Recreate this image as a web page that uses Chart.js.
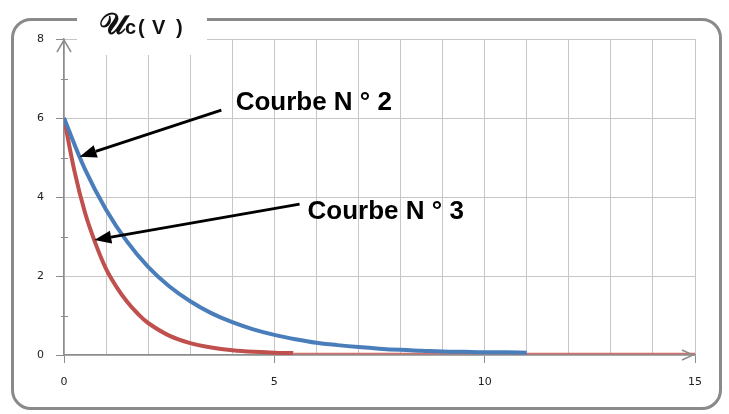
<!DOCTYPE html>
<html>
<head>
<meta charset="utf-8">
<script src="https://cdn.jsdelivr.net/npm/chart.js@4.4.1/dist/chart.umd.min.js"></script>
<style>
  html, body { margin: 0; padding: 0; background: #fff; }
  #wrap { position: relative; width: 729px; height: 414px; }
  #frame {
    position: absolute; left: 11px; top: 18px; width: 705px; height: 386px;
    border: 3px solid #8a8a8a; border-radius: 20px;
  }
  #uc-chart { position: absolute; left: 0; top: 0; }
</style>
</head>
<body>
<div id="wrap">
  <div id="frame"></div>
  <canvas id="uc-chart" width="729" height="414"></canvas>
</div>
<script>
// courbe N°2 (bleue)
var blueX = [0, 0.5, 1, 1.5, 2, 2.5, 3, 3.5, 4, 4.5, 5, 5.5, 6, 6.5, 7, 7.5, 8, 8.5, 9, 9.5, 10, 10.5, 11];
var blueY = [6, 4.7, 3.68, 2.87, 2.23, 1.74, 1.36, 1.06, 0.83, 0.65, 0.51, 0.4, 0.31, 0.25, 0.2, 0.16, 0.13, 0.11, 0.09, 0.08, 0.07, 0.07, 0.06];
// courbe N°3 (rouge)
var redX = [0, 0.25, 0.5, 0.75, 1, 1.25, 1.5, 1.75, 2, 2.5, 3, 3.5, 4, 4.5, 5, 5.45];
var redY = [6, 4.65, 3.6, 2.82, 2.18, 1.72, 1.35, 1.05, 0.81, 0.49, 0.3, 0.19, 0.12, 0.08, 0.06, 0.05];
// fine ligne rouge jusqu'a 15
var tailX = [5.45, 15];
var tailY = [0.04, 0.04];

var xTicks = [0, 5, 10, 15];
var yTicks = [0, 2, 4, 6, 8];

// fleches : pointe, depart, texte (en unites des axes)
var noteLabels = ['Courbe N ° 2', 'Courbe N ° 3'];
var noteTips = [[0.37, 5.02], [0.72, 2.91]];
var noteTails = [[3.74, 6.2], [5.6, 3.82]];
var noteText = [[4.08, 6.2], [5.79, 3.44]];

function toPoints(xs, ys) {
    return xs.map(function (x, i) { return { x: x, y: ys[i] }; });
}

var grey = '#8c8c8c';

var decor = {
    id: 'decor',
    afterDraw: function (chart) {
        var ctx = chart.ctx;
        var xs = chart.scales.x, ys = chart.scales.y;
        var a = chart.chartArea;
        ctx.save();

        // petits traits secondaires sur l'axe y
        ctx.strokeStyle = grey;
        ctx.lineWidth = 1;
        [1, 3, 5, 7].forEach(function (v) {
            var py = Math.round(ys.getPixelForValue(v)) + 0.5;
            ctx.beginPath();
            ctx.moveTo(a.left - 3, py);
            ctx.lineTo(a.left + 4, py);
            ctx.stroke();
        });

        // fleches des axes
        ctx.lineWidth = 1.5;
        ctx.beginPath();
        ctx.moveTo(a.left - 7, a.top + 13);
        ctx.lineTo(a.left, a.top + 1);
        ctx.lineTo(a.left + 7, a.top + 13);
        ctx.moveTo(a.right - 13, a.bottom - 5);
        ctx.lineTo(a.right - 2, a.bottom);
        ctx.lineTo(a.right - 13, a.bottom + 5);
        ctx.stroke();

        // cartouche du titre
        ctx.fillStyle = '#fff';
        ctx.fillRect(77, 0, 130, 55);
        ctx.fillStyle = '#111';
        ctx.textBaseline = 'alphabetic';
        ctx.font = 'bold 30px "DejaVu Serif", serif';
        ctx.fillText('\u{1D4B0}', 99, 34);
        ctx.font = 'bold 20px "Liberation Sans", Arial, sans-serif';
        ctx.fillText('c', 125, 34);
        ctx.fillText('(', 138, 34);
        ctx.fillText('V', 152, 34);
        ctx.fillText(')', 176, 34);

        // fleches d'annotation
        ctx.strokeStyle = '#000';
        ctx.fillStyle = '#000';
        ctx.lineWidth = 3;
        for (var i = 0; i < noteLabels.length; i++) {
            var tx = xs.getPixelForValue(noteTips[i][0]), ty = ys.getPixelForValue(noteTips[i][1]);
            var sx = xs.getPixelForValue(noteTails[i][0]), sy = ys.getPixelForValue(noteTails[i][1]);
            var ang = Math.atan2(ty - sy, tx - sx);
            var len = 17, half = 6.5;
            var bx = tx - len * Math.cos(ang), by = ty - len * Math.sin(ang);
            ctx.beginPath();
            ctx.moveTo(sx, sy);
            ctx.lineTo(bx, by);
            ctx.stroke();
            ctx.beginPath();
            ctx.moveTo(tx, ty);
            ctx.lineTo(bx + half * Math.sin(ang), by - half * Math.cos(ang));
            ctx.lineTo(bx - half * Math.sin(ang), by + half * Math.cos(ang));
            ctx.closePath();
            ctx.fill();

            ctx.font = 'bold 26px "Liberation Sans", Arial, sans-serif';
            ctx.fillText(noteLabels[i], xs.getPixelForValue(noteText[i][0]), ys.getPixelForValue(noteText[i][1]));
        }
        ctx.restore();
    }
};

var ctx = document.getElementById('uc-chart').getContext('2d');

var chart = new Chart(ctx, {
    type: 'line',
    data: {
        datasets: [{
            label: 'Courbe N°2',
            data: toPoints(blueX, blueY),
            borderColor: '#4a7ebb',
            borderWidth: 4,
            pointRadius: 0,
            tension: 0.4,
            fill: false
        }, {
            label: 'Courbe N°3',
            data: toPoints(redX, redY),
            borderColor: '#c0504d',
            borderWidth: 4,
            pointRadius: 0,
            tension: 0.4,
            fill: false
        }, {
            label: 'Courbe N°3 (suite)',
            data: toPoints(tailX, tailY),
            borderColor: '#d4706c',
            borderWidth: 1.5,
            pointRadius: 0,
            fill: false
        }]
    },
    options: {
        responsive: false,
        animation: false,
        devicePixelRatio: 1,
        layout: { padding: { left: 0, top: 39, right: 34, bottom: 0 } },
        plugins: {
            legend: { display: false },
            tooltip: { enabled: false },
            title: { display: false }
        },
        scales: {
            x: {
                type: 'linear',
                min: 0,
                max: 15,
                afterFit: function (scale) { scale.height = 59; },
                afterBuildTicks: function (scale) {
                    var t = [];
                    for (var v = 0; v <= 15; v++) t.push({ value: v });
                    scale.ticks = t;
                },
                ticks: {
                    autoSkip: false,
                    maxRotation: 0,
                    padding: 13,
                    color: '#222',
                    font: { family: '"DejaVu Sans", sans-serif', size: 11 },
                    callback: function (v) { return xTicks.indexOf(v) >= 0 ? String(v) : ''; }
                },
                grid: {
                    color: '#c6c6c6',
                    lineWidth: 1,
                    tickLength: 8,
                    tickColor: function (c) { return xTicks.indexOf(c.tick.value) >= 0 ? grey : 'rgba(0,0,0,0)'; }
                },
                border: { display: true, color: grey, width: 1.5 }
            },
            y: {
                type: 'linear',
                min: 0,
                max: 8,
                afterFit: function (scale) { scale.width = 64; },
                afterBuildTicks: function (scale) {
                    scale.ticks = yTicks.map(function (v) { return { value: v }; });
                },
                ticks: {
                    padding: 12,
                    color: '#222',
                    font: { family: '"DejaVu Sans", sans-serif', size: 11 },
                    callback: function (v) { return String(v); }
                },
                grid: {
                    color: '#c6c6c6',
                    lineWidth: 1,
                    tickLength: 8,
                    tickColor: grey
                },
                border: { display: true, color: grey, width: 1.5 }
            }
        }
    },
    plugins: [decor]
});
</script>
</body>
</html>
